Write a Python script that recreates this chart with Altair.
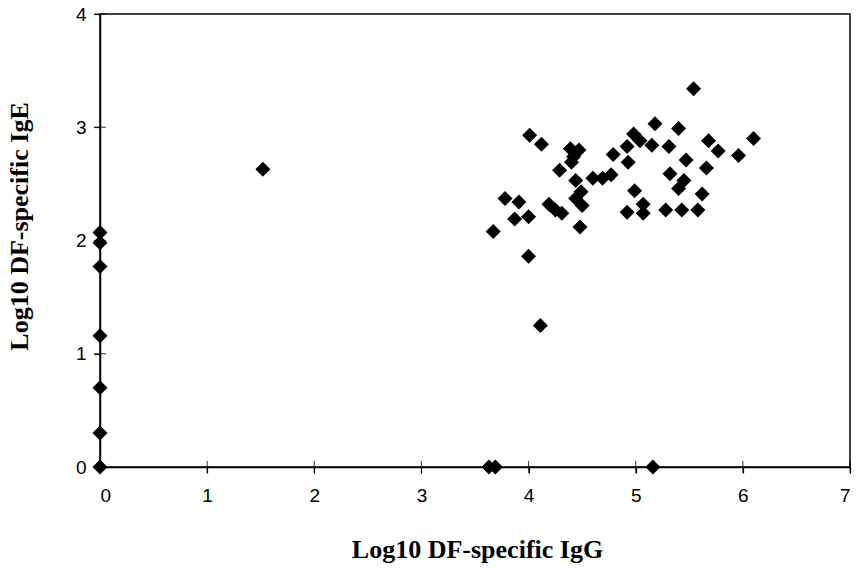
import altair as alt
import pandas as pd

# Log10 DF-specific IgG (x) and IgE (y)
igg = [0, 0, 0, 0, 0, 0, 0,
       1.52,
       3.63, 3.69, 5.16,
       3.67, 4.00, 4.11,
       3.78, 3.91, 3.87, 4.00,
       4.01, 4.12,
       4.39, 4.47, 4.42, 4.40,
       4.29,
       4.44, 4.60, 4.69, 4.77,
       4.19, 4.25, 4.31,
       4.49, 4.44, 4.50,
       4.48,
       4.79,
       5.54, 5.18, 5.40, 4.98, 5.04, 4.92, 5.15, 5.31, 5.68, 5.77, 5.96, 6.10,
       4.93, 5.47, 5.66, 5.32, 5.45, 5.40, 5.62, 4.99, 5.07, 4.92, 5.07,
       5.28, 5.43, 5.58]
ige = [2.07, 1.98, 1.77, 1.16, 0.70, 0.30, 0.00,
       2.63,
       0.00, 0.00, 0.00,
       2.08, 1.86, 1.25,
       2.37, 2.34, 2.19, 2.21,
       2.93, 2.85,
       2.81, 2.80, 2.74, 2.69,
       2.62,
       2.53, 2.55, 2.55, 2.58,
       2.32, 2.27, 2.24,
       2.43, 2.37, 2.31,
       2.12,
       2.76,
       3.34, 3.03, 2.99, 2.94, 2.88, 2.83, 2.84, 2.83, 2.88, 2.79, 2.75, 2.90,
       2.69, 2.71, 2.64, 2.59, 2.53, 2.46, 2.41, 2.44, 2.32, 2.25, 2.24,
       2.27, 2.27, 2.27]

x_ticks = [0, 1, 2, 3, 4, 5, 6, 7]
y_ticks = [0, 1, 2, 3, 4]

df = pd.DataFrame({"igg": igg, "ige": ige})
xt = pd.DataFrame({"v": x_ticks, "zero": [0] * len(x_ticks)})
yt = pd.DataFrame({"v": y_ticks, "zero": [0] * len(y_ticks)})

LABEL_FONT = "Liberation Sans"
TITLE_FONT = "Liberation Serif"

xscale = alt.Scale(domain=[0, 7], nice=False, zero=False)
yscale = alt.Scale(domain=[0, 4], nice=False, zero=False)

xaxis = alt.Axis(values=x_ticks, format="d", grid=False,
                 title="Log10 DF-specific IgG",
                 titleFont=TITLE_FONT, titleFontSize=26,
                 titleFontWeight="bold", titleColor="black",
                 titleX=377, titleY=90, titleBaseline="alphabetic",
                 titleAlign="center",
                 labelFont=LABEL_FONT, labelFontSize=19,
                 labelColor="black", labelPadding=13,
                 tickSize=6, tickColor="black", tickWidth=1.2,
                 domainColor="black", domainWidth=1.5)
yaxis = alt.Axis(values=y_ticks, format="d", grid=False,
                 title="Log10 DF-specific IgE",
                 titleFont=TITLE_FONT, titleFontSize=26,
                 titleFontWeight="bold", titleColor="black",
                 titleX=-73, titleY=212, titleBaseline="alphabetic",
                 titleAlign="center", titleAngle=270,
                 labelFont=LABEL_FONT, labelFontSize=19,
                 labelColor="black", labelPadding=8,
                 tickSize=6, tickColor="black", tickWidth=1.2,
                 domainColor="black", domainWidth=1.5)

points = alt.Chart(df).mark_point(
    shape="diamond", filled=True, color="black", size=225, opacity=1
).encode(
    x=alt.X("igg:Q", scale=xscale, axis=xaxis),
    y=alt.Y("ige:Q", scale=yscale, axis=yaxis),
)

xticks_in = alt.Chart(xt).mark_tick(
    orient="vertical", color="black", size=12, thickness=1.2
).encode(x=alt.X("v:Q", scale=xscale, axis=xaxis),
         y=alt.Y("zero:Q", scale=yscale, axis=yaxis))

yticks_in = alt.Chart(yt).mark_tick(
    orient="horizontal", color="black", size=12, thickness=1.2
).encode(y=alt.Y("v:Q", scale=yscale, axis=yaxis),
         x=alt.X("zero:Q", scale=xscale, axis=xaxis))

chart = alt.layer(points, xticks_in, yticks_in).properties(
    width=750, height=453,
    autosize=alt.AutoSizeParams(type="none"),
    padding={"left": 100, "top": 14, "right": 9, "bottom": 104},
    background="white",
).configure_view(stroke="black", strokeWidth=1.5)

chart.save("out.html", embed_options={"renderer": "svg", "actions": False})
